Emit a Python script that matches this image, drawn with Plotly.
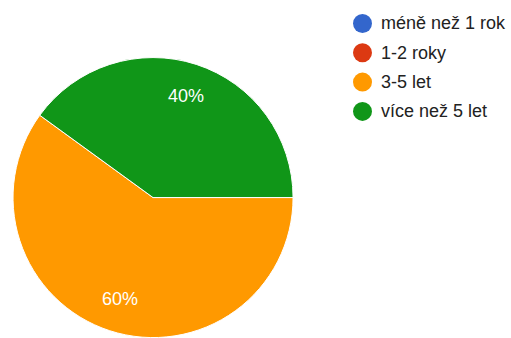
import math
import plotly.graph_objects as go

categories = ["méně než 1 rok", "1-2 roky", "3-5 let", "více než 5 let"]
values = [0, 0, 60, 40]
colors = ["#3366cc", "#dc3912", "#ff9900", "#109618"]

W, H = 511, 338
FONT = "Liberation Sans, Arial, sans-serif"

# pie placement (paper fractions)
dom_x = [0.0255, 0.5735]
dom_y = [0.0, 0.831]
start_deg = 90  # first slice starts at 3 o'clock, going clockwise

fig = go.Figure()

fig.add_trace(go.Pie(
    labels=categories,
    values=values,
    sort=False,
    direction="clockwise",
    rotation=start_deg,
    marker=dict(colors=colors, line=dict(color="white", width=1)),
    textinfo="none",
    showlegend=False,
    hoverinfo="label+percent",
    domain=dict(x=dom_x, y=dom_y),
))

# percentage labels placed along each slice's mid-angle
cx_px = (dom_x[0] + dom_x[1]) / 2 * W
cy_px = (1 - (dom_y[0] + dom_y[1]) / 2) * H
radius = min((dom_x[1] - dom_x[0]) * W, (dom_y[1] - dom_y[0]) * H) / 2
total = sum(values)
acc = 0.0
for v in values:
    if v > 0:
        mid = math.radians(start_deg + 360 * (acc + v / 2) / total)
        px = cx_px + 0.765 * radius * math.sin(mid)
        py = cy_px - 0.765 * radius * math.cos(mid)
        fig.add_annotation(
            x=px / W, y=1 - py / H, xref="paper", yref="paper",
            text=f"{round(100 * v / total)}%", showarrow=False,
            xanchor="center", yanchor="middle",
            font=dict(family=FONT, size=18, color="white"),
        )
    acc += v

# legend: round swatches with labels
leg_x, leg_y0, leg_dy, dot_r = 362.5, 23.5, 29.3, 9.5
for i, (name, col) in enumerate(zip(categories, colors)):
    yy = leg_y0 + i * leg_dy
    fig.add_shape(
        type="circle", xref="paper", yref="paper",
        x0=(leg_x - dot_r) / W, x1=(leg_x + dot_r) / W,
        y0=1 - (yy + dot_r) / H, y1=1 - (yy - dot_r) / H,
        fillcolor=col, line=dict(width=0),
    )
    fig.add_annotation(
        x=379 / W, y=1 - yy / H, xref="paper", yref="paper",
        text=name, showarrow=False, xanchor="left", yanchor="middle",
        font=dict(family=FONT, size=18, color="#222222"),
    )

fig.update_layout(
    width=W, height=H,
    margin=dict(l=0, r=0, t=0, b=0),
    paper_bgcolor="white",
    plot_bgcolor="white",
)

fig.write_html("out.html")
